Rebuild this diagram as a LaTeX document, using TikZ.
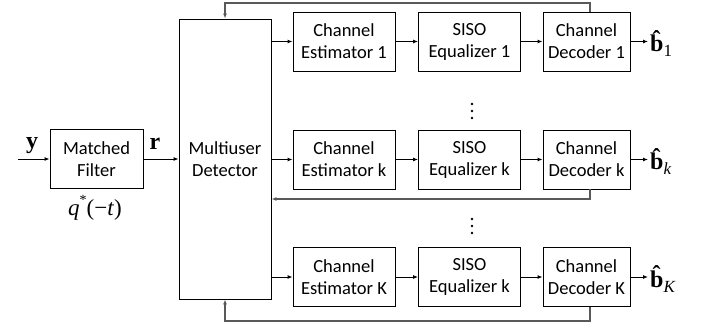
\documentclass[tikz,border=0pt]{standalone}
\usepackage{fontspec}
\setmainfont{Carlito}
\newfontfamily\tnr{Liberation Serif}
\usetikzlibrary{arrows.meta}
\newcommand{\bhat}{{\tnr\bfseries\fontsize{24}{24}\selectfont b\char"0302}}
\begin{document}
\begin{tikzpicture}[x=1pt,y=-1pt,
  blk/.style={draw=black,line width=0.9pt,minimum height=59pt,align=center,inner sep=0pt,
    font=\fontsize{18.5}{22}\selectfont},
  conn/.style={line width=0.9pt,-{Latex[length=5pt,width=4pt]}},
  fb/.style={draw=black!65,line width=1.2pt},
  fbarrow/.style={fb,-{Latex[length=5pt,width=4pt]}},
  mlab/.style={inner sep=0pt,font=\tnr\fontsize{24}{24}\selectfont\bfseries}]
\useasboundingbox (0,0) rectangle (702,329);
% left part
\coordinate (in) at (18,159);
\node[blk,minimum width=93pt] (mf) at (96.5,159) {Matched\\Filter};
\node[blk,minimum width=92pt,minimum height=280pt] (mud) at (225,159) {Multiuser\\Detector};
\node[mlab,anchor=base] (ylab) at (32,148) {y};
\node[mlab,anchor=base] (rlab) at (155,149) {r};
\node[inner sep=0pt,font=\tnr\fontsize{23}{23}\selectfont] (qlab) at (95,208)
  {\itshape q\/\upshape\raisebox{1.0ex}{\fontsize{14}{14}\selectfont *}(−\itshape t\/\upshape)};
\draw[conn] (in) -- (mf.west);
\draw[conn] (mf.east) -- (mud.west |- mf.east);
% rows
\foreach \r/\yy/\ce/\eq/\de/\bs in {1/41.5/1/1/1/{\upshape 1},2/159.5/k/k/k/{\itshape k},3/277/K/k/K/{\itshape K}}{
  \node[blk,minimum width=102pt] (e\r) at (344,\yy) {Channel\\Estimator \ce};
  \node[blk,minimum width=102pt] (q\r) at (469.5,\yy) {SISO\\Equalizer \eq};
  \node[blk,minimum width=87pt] (d\r) at (586.5,\yy) {Channel\\Decoder \de};
  \coordinate (o\r) at (648,\yy);
  \node[anchor=west,inner sep=0pt] (b\r) at (650,\yy+2)
    {\bhat\raisebox{-5pt}{\tnr\fontsize{17}{17}\selectfont\bs}};
  \draw[conn] (mud.east |- e\r.west) -- (e\r.west);
  \draw[conn] (e\r.east) -- (q\r.west);
  \draw[conn] (q\r.east) -- (d\r.west);
  \draw[conn] (d\r.east) -- (o\r);
}
% dots
\foreach \yy in {104,111,118,219,226,233}{
  \fill (472,\yy) circle (1.4pt);
}
% feedback
\coordinate (fbt) at (590,3);
\coordinate (fbm) at (590,199);
\coordinate (fbb) at (590,321);
\draw[fbarrow] (fbt |- d1.north) -- (fbt) -| (mud.north);
\draw[fbarrow] (fbm |- d2.south) -- (fbm) -- (mud.east |- fbm);
\draw[fbarrow] (fbb |- d3.south) -- (fbb) -| (mud.south);
\end{tikzpicture}
\end{document}
